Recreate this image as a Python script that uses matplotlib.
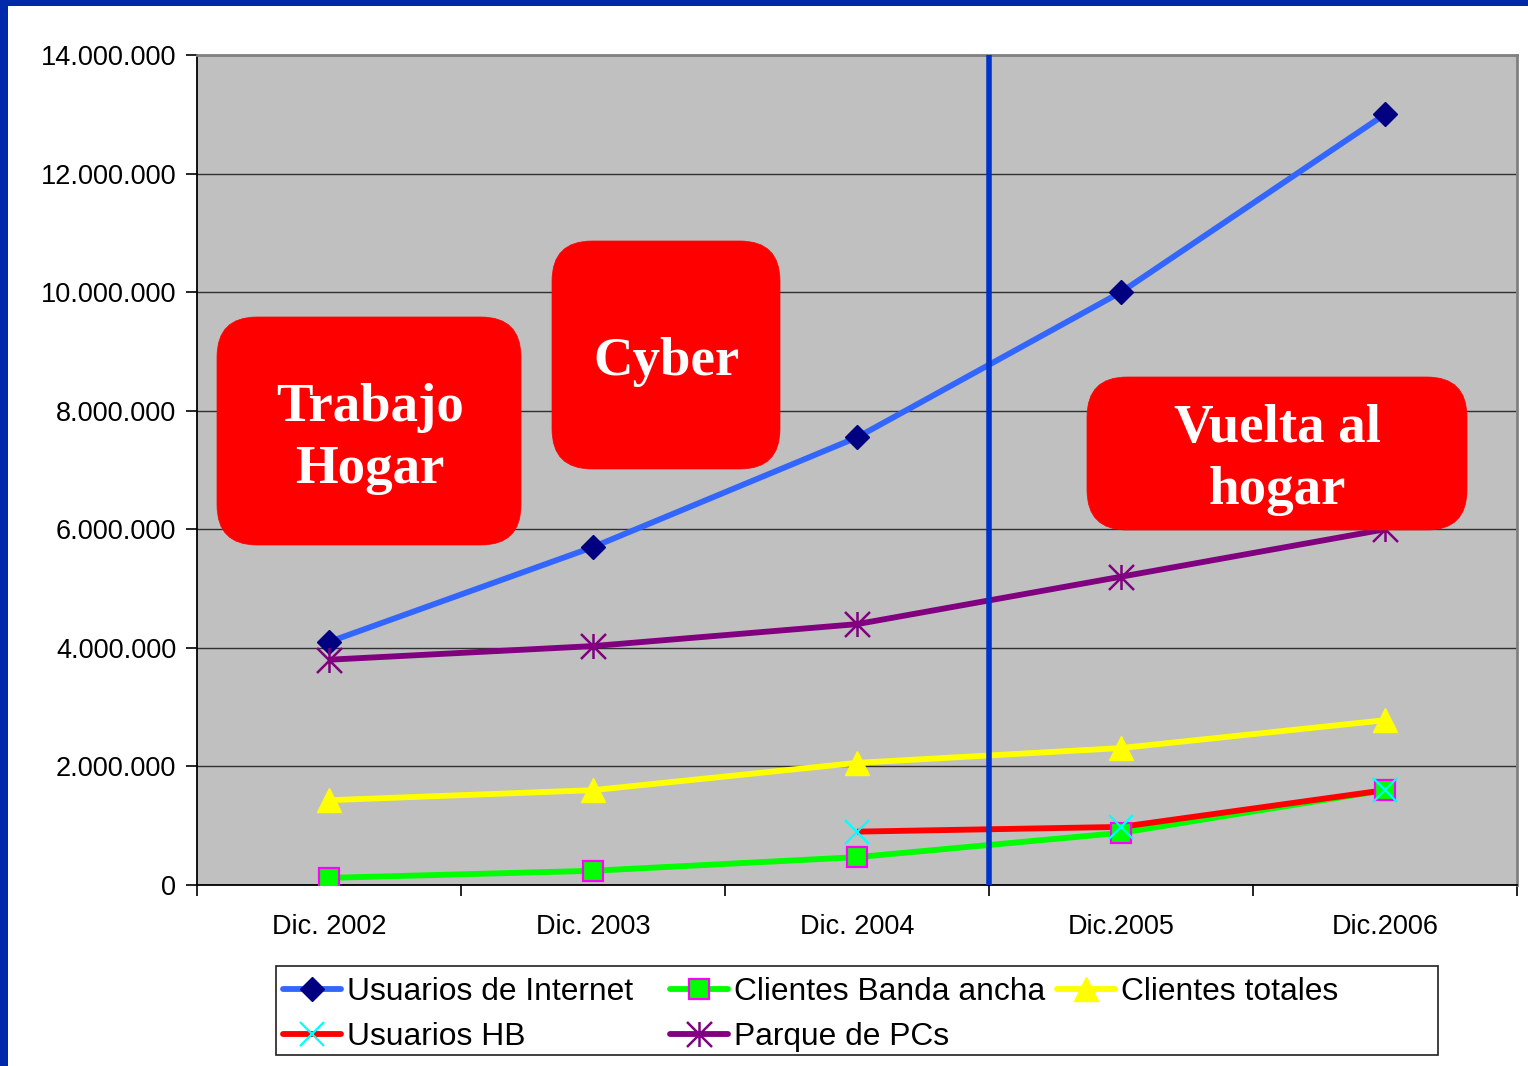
import numpy as np
import matplotlib
matplotlib.use("Agg")
import matplotlib.pyplot as plt
from matplotlib.patches import FancyBboxPatch, Rectangle
from matplotlib.lines import Line2D
from matplotlib.path import Path
from matplotlib.ticker import FuncFormatter, FixedLocator

# ---------------- data ----------------
categories = ['Dic. 2002', 'Dic. 2003', 'Dic. 2004', 'Dic.2005', 'Dic.2006']
usuarios_internet = [4_100_000, 5_700_000, 7_550_000, 10_000_000, 13_000_000]
banda_ancha = [120_000, 240_000, 470_000, 880_000, 1_600_000]
clientes_totales = [1_430_000, 1_600_000, 2_060_000, 2_310_000, 2_780_000]
usuarios_hb = [np.nan, np.nan, 900_000, 980_000, 1_600_000]
parque_pcs = [3_800_000, 4_030_000, 4_400_000, 5_200_000, 6_000_000]
series_labels = ['Usuarios de Internet', 'Clientes Banda ancha', 'Clientes totales',
                 'Usuarios HB', 'Parque de PCs']
y_ticks = [0, 2_000_000, 4_000_000, 6_000_000, 8_000_000, 10_000_000, 12_000_000, 14_000_000]
divider_position = 2.5
box_texts = ['Trabajo\nHogar', 'Cyber', 'Vuelta al\nhogar']

# ---------------- figure ----------------
W, H = 1528, 1066
fig = plt.figure(figsize=(W / 100, H / 100), dpi=100)
fig.patch.set_facecolor('white')
inch = fig.dpi_scale_trans

def P(x, y):
    return (x / 100.0, (H - y) / 100.0)

# blue frame (left and top)
border_col = '#0028AA'
fig.patches.append(Rectangle(P(0, H), 8 / 100, H / 100, transform=inch,
                             facecolor=border_col, edgecolor='none', zorder=0))
fig.patches.append(Rectangle(P(0, 6), W / 100, 6 / 100, transform=inch,
                             facecolor=border_col, edgecolor='none', zorder=0))

ax_l, ax_r, ax_t, ax_b = 197, 1517, 55, 885
ax = fig.add_axes([ax_l / W, 1 - ax_b / H, (ax_r - ax_l) / W, (ax_b - ax_t) / H])
ax.set_facecolor('#C0C0C0')

x = np.arange(len(categories))

star_path = Path([(0, -1), (0, 1), (-1, -1), (1, 1), (-1, 1), (1, -1)],
                 [Path.MOVETO, Path.LINETO, Path.MOVETO, Path.LINETO, Path.MOVETO, Path.LINETO])

styles = {
    'Usuarios de Internet': dict(color='#3366FF', marker='D', mfc='#000080', mec='#000080', ms=12.5, mew=1),
    'Clientes Banda ancha': dict(color='#00FF00', marker='s', mfc='#00FF00', mec='#FF00FF', ms=15, mew=1.6),
    'Clientes totales': dict(color='#FFFF00', marker='^', mfc='#FFFF00', mec='#FFFF00', ms=17, mew=1),
    'Usuarios HB': dict(color='#FF0000', marker='x', mfc='#00FFFF', mec='#00FFFF', ms=17, mew=1.6),
    'Parque de PCs': dict(color='#800080', marker=star_path, mfc='#800080', mec='#800080', ms=18, mew=1.8),
}
data = {
    'Usuarios de Internet': usuarios_internet,
    'Clientes Banda ancha': banda_ancha,
    'Clientes totales': clientes_totales,
    'Usuarios HB': usuarios_hb,
    'Parque de PCs': parque_pcs,
}
lw = 4.2
marker_z = {'Usuarios de Internet': 5, 'Clientes Banda ancha': 5, 'Clientes totales': 5,
            'Usuarios HB': 6, 'Parque de PCs': 5}
for lab in series_labels:
    st = styles[lab]
    vals = np.array(data[lab], dtype=float)
    ax.plot(x, vals, color=st['color'], lw=lw, zorder=3, solid_capstyle='butt')
    ax.plot(x, vals, ls='none', marker=st['marker'], ms=st['ms'], mfc=st['mfc'],
            mec=st['mec'], mew=st['mew'], zorder=marker_z[lab])

ax.axvline(divider_position, color='#0033CC', lw=4.0, zorder=4)

ax.set_xlim(-0.5, len(categories) - 0.5)
ax.set_ylim(0, 14_000_000)
ax.yaxis.set_major_locator(FixedLocator(y_ticks))
ax.yaxis.set_major_formatter(FuncFormatter(lambda v, p: f"{int(v):,}".replace(',', '.')))
ax.grid(axis='y', color='#303030', lw=1.0, zorder=1)
ax.set_axisbelow(True)

ax.set_xticks(x)
ax.set_xticklabels(categories)
ax.set_xticks(np.arange(-0.5, len(categories)), minor=True)
ax.tick_params(axis='x', which='major', length=0, pad=21, labelsize=19.5)
ax.tick_params(axis='x', which='minor', length=8, width=1.2, color='black', direction='out')
ax.tick_params(axis='y', which='major', length=8, width=1.2, color='black', direction='out',
               pad=7, labelsize=19.5)
for lbl in ax.get_xticklabels() + ax.get_yticklabels():
    lbl.set_fontfamily('Liberation Sans')

ax.spines['left'].set_color('black')
ax.spines['left'].set_linewidth(1.3)
ax.spines['bottom'].set_color('black')
ax.spines['bottom'].set_linewidth(1.3)
ax.spines['top'].set_color('#808080')
ax.spines['top'].set_linewidth(2)
ax.spines['right'].set_color('#808080')
ax.spines['right'].set_linewidth(2)

# ---------------- rounded red boxes ----------------
boxes = [(217, 317, 521, 545), (552, 241, 780, 469), (1087, 377, 1467, 530)]
text_centers = [(370, 439), (666, 362), (1277, 460)]
for (x0, y0, x1, y1), txt, (tx, ty) in zip(boxes, box_texts, text_centers):
    bx, by = P(x0, y1)
    patch = FancyBboxPatch((bx, by), (x1 - x0) / 100, (y1 - y0) / 100,
                           boxstyle="round,pad=0,rounding_size=0.4",
                           transform=inch, facecolor='#FF0000', edgecolor='#FF0000',
                           lw=0.5, zorder=10)
    fig.patches.append(patch)
    fig.text(*P(tx, ty), txt, transform=inch, ha='center', va='center',
             fontfamily='Liberation Serif', fontweight='bold', fontsize=39.5,
             color='white', linespacing=1.3, zorder=11)

# ---------------- legend (manual, Excel-like fixed column widths) ----------------
lg_x0, lg_y0, lg_x1, lg_y1 = 276, 966, 1438, 1055
lx, ly = P(lg_x0, lg_y1)
fig.patches.append(Rectangle((lx, ly), (lg_x1 - lg_x0) / 100, (lg_y1 - lg_y0) / 100,
                             transform=inch, facecolor='white', edgecolor='#202020',
                             lw=1.2, zorder=10))
col_x = [283, 670, 1057]
row_y = [989, 1034]
layout = [(0, 0), (0, 1), (0, 2), (1, 0), (1, 1)]
handle_len = 58
for lab, (r, c) in zip(series_labels, layout):
    st = styles[lab]
    hx0 = col_x[c]
    hy = row_y[r]
    a = P(hx0, hy)
    b = P(hx0 + handle_len, hy)
    line = Line2D([a[0], b[0]], [a[1], b[1]], transform=inch, color=st['color'], lw=lw,
                  solid_capstyle='round', zorder=11)
    fig.lines.append(line)
    m = P(hx0 + handle_len / 2, hy)
    mk = Line2D([m[0]], [m[1]], transform=inch, ls='none', marker=st['marker'],
                ms=st['ms'], mfc=st['mfc'], mec=st['mec'], mew=st['mew'], zorder=12)
    fig.lines.append(mk)
    fig.text(*P(hx0 + handle_len + 6, hy + 3), lab, transform=inch, ha='left', va='center',
             fontfamily='Liberation Sans', fontsize=22.9, color='black', zorder=12)

fig.savefig('out.png', dpi=100, facecolor='white')
